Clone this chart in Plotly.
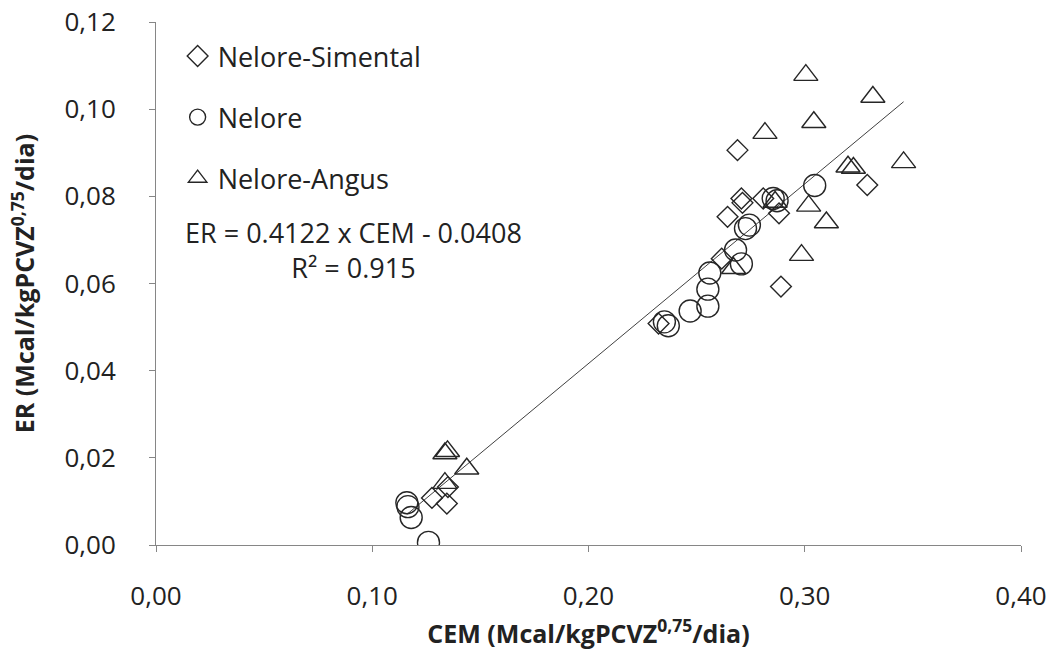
import plotly.graph_objects as go

# Nelore-Simental (diamonds)
simental_x = [0.1350, 0.1276, 0.1345, 0.2324, 0.2689, 0.2707, 0.2712, 0.2643,
              0.2616, 0.2808, 0.2881, 0.2890, 0.3289]
simental_y = [0.0133, 0.0108, 0.0095, 0.0508, 0.0906, 0.0795, 0.0785, 0.0753,
              0.0657, 0.0795, 0.0761, 0.0593, 0.0826]

# Nelore (circles)
nelore_x = [0.1160, 0.1165, 0.1180, 0.1260, 0.2351, 0.2369, 0.2470, 0.2552,
            0.2552, 0.2561, 0.2680, 0.2707, 0.2744, 0.2726, 0.2854, 0.2872, 0.3046]
nelore_y = [0.0097, 0.0088, 0.0063, 0.0006, 0.0512, 0.0503, 0.0537, 0.0548,
            0.0587, 0.0624, 0.0677, 0.0645, 0.0734, 0.0726, 0.0795, 0.0790, 0.0825]

# Nelore-Angus (triangles)
angus_x = [0.1336, 0.1348, 0.1437, 0.1336, 0.2671, 0.2863, 0.2816, 0.3005,
           0.3042, 0.3315, 0.3200, 0.3225, 0.3457, 0.3018, 0.3100, 0.2985]
angus_y = [0.0210, 0.0215, 0.0175, 0.0142, 0.0635, 0.0787, 0.0945, 0.1078,
           0.0970, 0.1028, 0.0868, 0.0865, 0.0878, 0.0778, 0.0740, 0.0665]

slope = 0.4122
intercept = -0.0408
all_x = simental_x + nelore_x + angus_x
line_x = [min(all_x), max(all_x)]
line_y = [slope * v + intercept for v in line_x]

x_ticks = [0.0, 0.1, 0.2, 0.3, 0.4]
y_ticks = [0.0, 0.02, 0.04, 0.06, 0.08, 0.10, 0.12]

FONT = "Open Sans"
MK_LINE = dict(color="#262626", width=1.4)

fig = go.Figure()
fig.add_trace(go.Scatter(
    x=line_x, y=line_y, mode="lines", showlegend=False,
    line=dict(color="#404040", width=1), hoverinfo="skip"))
fig.add_trace(go.Scatter(
    x=simental_x, y=simental_y, mode="markers", name="Nelore-Simental",
    legendgroup="a",
    marker=dict(symbol="diamond-open", size=16, line=MK_LINE, color="#262626")))
fig.add_trace(go.Scatter(
    x=nelore_x, y=nelore_y, mode="markers", name="Nelore",
    legendgroup="b",
    marker=dict(symbol="circle-open", size=22, line=MK_LINE, color="#262626")))
fig.add_trace(go.Scatter(
    x=angus_x, y=angus_y, mode="markers", name="Nelore-Angus",
    legendgroup="c",
    marker=dict(symbol="triangle-up-open", size=21, line=MK_LINE, color="#262626")))

axis_common = dict(
    showgrid=False, zeroline=False, showline=True, linecolor="#868686",
    linewidth=1, ticks="outside", ticklen=6, tickcolor="#868686",
    tickformat=".2f", tickfont=dict(family=FONT, size=26, color="#222"),
)

fig.update_xaxes(
    range=[0, 0.4], tickvals=x_ticks, ticklabelstandoff=22, **axis_common,
    title=dict(text="<b>CEM (Mcal/kgPCVZ<sup>0,75</sup>/dia)</b>",
               font=dict(family=FONT, size=25, color="#222"), standoff=12))
fig.update_yaxes(
    range=[0, 0.12], tickvals=y_ticks, ticklabelstandoff=28, **axis_common,
    title=dict(text="<b>ER (Mcal/kgPCVZ<sup>0,75</sup>/dia)</b>",
               font=dict(family=FONT, size=25, color="#222"), standoff=22))

fig.add_annotation(x=0.0915, y=0.0676, xref="x", yref="y", showarrow=False,
                   text="ER = 0.4122 x CEM - 0.0408<br>R² = 0.915",
                   align="center",
                   font=dict(family=FONT, size=27, color="#222"))

fig.update_layout(
    width=1063, height=659,
    margin=dict(l=156, r=42, t=22, b=114, autoexpand=False),
    paper_bgcolor="white", plot_bgcolor="white",
    separators=",.",
    showlegend=True,
    legend=dict(x=0.025, y=0.981, xanchor="left", yanchor="top",
                traceorder="grouped", tracegroupgap=23,
                font=dict(family=FONT, size=27, color="#222"),
                bgcolor="rgba(0,0,0,0)", itemwidth=30),
)

fig.write_html("out.html")
